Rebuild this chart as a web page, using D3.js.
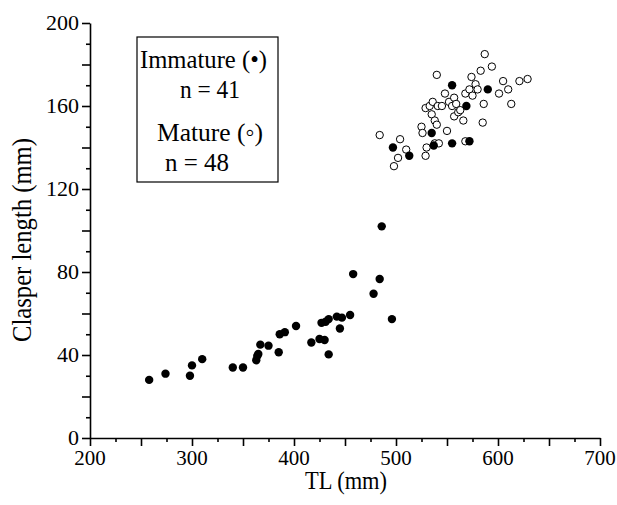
<!DOCTYPE html>
<html>
<head>
<meta charset="utf-8">
<script src="https://d3js.org/d3.v7.min.js"></script>
<style>
  body { margin: 0; background: #fff; }
  svg { display: block; }
  text { font-family: "Liberation Serif", "Times New Roman", serif; fill: #000; }
  .axis path, .axis line { stroke: #000; stroke-width: 1.6px; }
</style>
</head>
<body>
<svg width="617" height="505"></svg>
<script>
  // immature (filled)
  const immatureTL = [258, 274, 298, 300, 310, 340, 350, 363, 364, 365, 367, 375, 385, 386, 391, 402,
    417, 425, 427, 430, 431, 434, 434, 442, 445, 447, 455, 458, 478, 484, 486, 496,
    497, 513, 535, 537, 555, 555, 569, 572, 590];
  const immatureCL = [28, 31, 30, 35, 38, 34, 34, 37.5, 39.5, 40.5, 45, 44.5, 41.3, 50, 51, 54,
    46, 47.7, 55.5, 47.2, 56, 40.3, 57.3, 58.5, 52.8, 58, 59.3, 79, 69.5, 76.6, 102, 57.3,
    140, 136, 147, 141, 170, 142, 160, 143, 168];
  // mature (open)
  const matureTL = [484, 498, 502, 504, 510, 525, 526, 529, 530, 529, 533, 536, 535, 538, 540, 540,
    541, 538, 542, 545, 548, 550, 552, 555, 557, 557, 559, 561, 563, 566, 568, 568,
    572, 574, 575, 578, 580, 583, 587, 594, 586, 585, 601, 605, 610, 613, 621, 629];
  const matureCL = [146, 131, 135, 144, 139, 150, 147, 136, 140, 159, 160, 162, 156, 153, 151, 175,
    160, 142, 142, 160, 166, 148, 162, 160, 164, 155, 161, 157, 158, 153, 143, 166,
    168, 174, 165, 170.5, 168, 177, 185, 179, 161, 152, 166, 172, 168, 161, 172, 173];

  const xMajor = d3.range(200, 701, 50);
  const xMinor = d3.range(225, 700, 50);
  const xLabels = d3.range(200, 701, 100);
  const yMajor = d3.range(0, 201, 20);
  const yMinor = d3.range(10, 200, 20);
  const yLabels = d3.range(0, 201, 40);

  const svg = d3.select('svg');
  const x = d3.scaleLinear().domain([200, 700]).range([90, 600]);
  const y = d3.scaleLinear().domain([0, 200]).range([438, 23]);

  // x axis
  svg.append('g').attr('class', 'axis').attr('transform', 'translate(0,438)')
    .call(d3.axisBottom(x).tickValues(xMajor).tickSize(8).tickSizeOuter(0).tickFormat(''));
  svg.append('g').attr('class', 'axis').attr('transform', 'translate(0,438)')
    .call(d3.axisBottom(x).tickValues(xMinor).tickSize(4).tickSizeOuter(0).tickFormat(''))
    .select('.domain').remove();
  svg.append('g')
    .selectAll('text')
    .data(xLabels)
    .enter().append('text')
    .attr('x', d => x(d))
    .attr('y', 465)
    .attr('text-anchor', 'middle')
    .attr('font-size', 21)
    .text(d => d);

  // y axis
  svg.append('g').attr('class', 'axis').attr('transform', 'translate(90,0)')
    .call(d3.axisLeft(y).tickValues(yMajor).tickSize(8).tickSizeOuter(0).tickFormat(''));
  svg.append('g').attr('class', 'axis').attr('transform', 'translate(90,0)')
    .call(d3.axisLeft(y).tickValues(yMinor).tickSize(4).tickSizeOuter(0).tickFormat(''))
    .select('.domain').remove();
  svg.append('g')
    .selectAll('text')
    .data(yLabels)
    .enter().append('text')
    .attr('x', 79)
    .attr('y', d => y(d) + 7)
    .attr('text-anchor', 'end')
    .attr('font-size', 22)
    .text(d => d);

  // titles (the original type is a little narrow, so fix the widths)
  svg.append('text')
    .attr('x', 346).attr('y', 489)
    .attr('text-anchor', 'middle')
    .attr('font-size', 25)
    .attr('textLength', 82)
    .attr('lengthAdjust', 'spacingAndGlyphs')
    .text('TL (mm)');
  svg.append('text')
    .attr('transform', 'translate(31,240) rotate(-90)')
    .attr('text-anchor', 'middle')
    .attr('font-size', 27)
    .attr('textLength', 204)
    .attr('lengthAdjust', 'spacingAndGlyphs')
    .text('Clasper length (mm)');

  // points
  const immature = immatureTL.map((d, i) => ({ tl: d, cl: immatureCL[i] }));
  const mature = matureTL.map((d, i) => ({ tl: d, cl: matureCL[i] }));

  svg.append('g')
    .selectAll('circle')
    .data(mature)
    .enter().append('circle')
    .attr('cx', d => x(d.tl))
    .attr('cy', d => y(d.cl))
    .attr('r', 3.7)
    .attr('fill', '#fff')
    .attr('stroke', '#000')
    .attr('stroke-width', 1);

  svg.append('g')
    .selectAll('circle')
    .data(immature)
    .enter().append('circle')
    .attr('cx', d => x(d.tl))
    .attr('cy', d => y(d.cl))
    .attr('r', 4.2)
    .attr('fill', '#000');

  // legend box
  const lg = svg.append('g');
  lg.append('rect')
    .attr('x', 137).attr('y', 37)
    .attr('width', 141).attr('height', 145)
    .attr('fill', 'none')
    .attr('stroke', '#000')
    .attr('stroke-width', 1.2);

  const legendRows = [
    { text: 'Immature (\u2022)', x: 140, y: 68, anchor: 'start', len: 127 },
    { text: 'n = 41', x: 210, y: 98, anchor: 'middle', len: 60 },
    { text: 'Mature (\u25E6)', x: 210, y: 141, anchor: 'middle', len: 106 },
    { text: 'n = 48', x: 197, y: 171, anchor: 'middle', len: 64 }
  ];
  lg.selectAll('text')
    .data(legendRows)
    .enter().append('text')
    .attr('x', d => d.x)
    .attr('y', d => d.y)
    .attr('text-anchor', d => d.anchor)
    .attr('font-size', 26)
    .attr('textLength', d => d.len)
    .attr('lengthAdjust', 'spacingAndGlyphs')
    .text(d => d.text);
</script>
</body>
</html>
